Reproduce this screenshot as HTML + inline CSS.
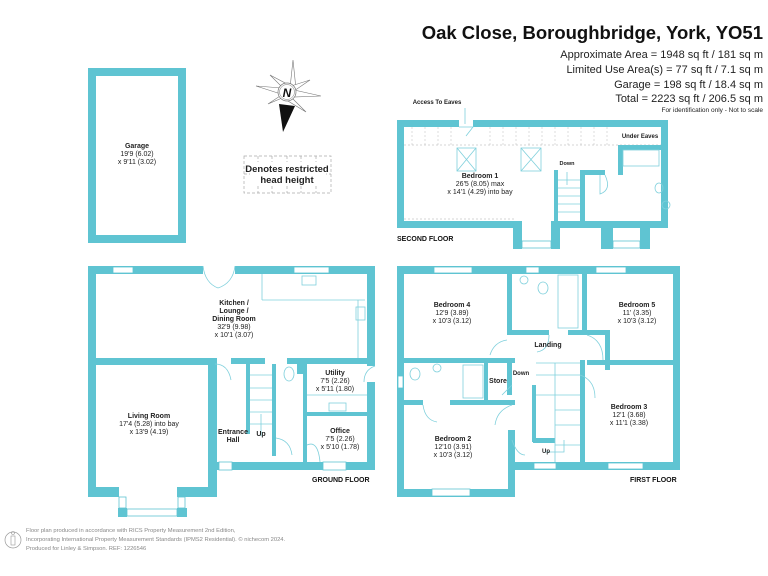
<!DOCTYPE html>
<html><head><meta charset="utf-8"><style>
html,body{margin:0;padding:0;background:#fff;}
svg{display:block;font-family:"Liberation Sans",sans-serif;}
.w{fill:#5fc4d2;}
.win{fill:#fff;stroke:#5fc4d2;stroke-width:0.8;}
.t{font-size:7px;text-anchor:middle;fill:#222;}
.b{font-weight:bold;}
.l{stroke:#7fd0dc;stroke-width:0.8;fill:none;}
</style></head><body>
<svg width="768" height="576" viewBox="0 0 768 576" xmlns="http://www.w3.org/2000/svg">
<!-- Header -->
<text x="763" y="39" font-size="18.5" font-weight="bold" text-anchor="end" fill="#111">Oak Close, Boroughbridge, York, YO51</text>
<g font-size="11" text-anchor="end" fill="#222">
<text x="763" y="58">Approximate Area = 1948 sq ft / 181 sq m</text>
<text x="763" y="73">Limited Use Area(s) = 77 sq ft / 7.1 sq m</text>
<text x="763" y="88">Garage = 198 sq ft / 18.4 sq m</text>
<text x="763" y="102">Total = 2223 sq ft / 206.5 sq m</text>
</g>
<text x="763" y="112" font-size="6.5" text-anchor="end" fill="#222">For identification only - Not to scale</text>

<!-- Garage -->
<rect class="w" x="88" y="68" width="98" height="175"/>
<rect fill="#fff" x="96" y="76" width="82" height="159"/>
<text class="t b" x="137" y="148">Garage</text>
<text class="t" x="137" y="156">19'9 (6.02)</text>
<text class="t" x="137" y="164">x 9'11 (3.02)</text>

<!-- Compass -->
<g stroke="#777" stroke-width="0.6" fill="#fff">
<polygon points="293,60 290,88 296,89"/>
<polygon points="321,96 294,90 293,97"/>
<polygon points="256,86 281,94 282,88"/>
<polygon points="270,75 283,88 287,84"/>
<polygon points="310,80 291,86 294,91"/>
<polygon points="306,112 291,97 288,101"/>
<polygon points="268,104 282,98 283,94"/>
</g>
<polygon points="279,104 295,106 283,132" fill="#111"/>
<circle cx="287" cy="92" r="9" fill="#fff" stroke="#777" stroke-width="0.7"/>
<circle cx="287" cy="92" r="7.5" fill="none" stroke="#777" stroke-width="0.5"/>
<text x="287" y="97" font-size="12" font-weight="bold" font-style="italic" text-anchor="middle" fill="#111">N</text>

<!-- restricted box -->
<g stroke="#aaa" stroke-width="0.7" stroke-dasharray="3,2" fill="none">
<rect x="244" y="156" width="87" height="37"/>
<line x1="258" y1="156" x2="258" y2="193"/><line x1="272" y1="156" x2="272" y2="193"/><line x1="287" y1="156" x2="287" y2="193"/><line x1="301" y1="156" x2="301" y2="193"/><line x1="316" y1="156" x2="316" y2="193"/>
<line x1="244" y1="174" x2="331" y2="174"/>
</g>
<rect x="250" y="162" width="76" height="24" fill="#fff"/>
<text x="287" y="172" font-size="9.5" font-weight="bold" text-anchor="middle" fill="#222">Denotes restricted</text>
<text x="287" y="183" font-size="9.5" font-weight="bold" text-anchor="middle" fill="#222">head height</text>

<!-- SECOND FLOOR -->
<text x="437" y="104" font-size="6" font-weight="bold" text-anchor="middle" fill="#222">Access To Eaves</text>
<line x1="465" y1="108" x2="465" y2="124" stroke="#7fd0dc" stroke-width="0.8"/>
<rect class="w" x="397" y="120" width="62" height="7"/>
<rect class="w" x="473" y="120" width="195" height="7"/>
<rect class="w" x="397" y="120" width="7" height="108"/>
<rect class="w" x="661" y="120" width="7" height="108"/>
<rect class="w" x="397" y="221" width="124" height="7"/>
<rect class="w" x="513" y="221" width="9" height="28"/>
<rect class="w" x="551" y="221" width="110" height="7"/>
<rect class="w" x="551" y="221" width="9" height="28"/>
<rect class="w" x="601" y="221" width="12" height="28"/>
<rect class="w" x="640" y="221" width="10" height="28"/>
<rect class="win" x="522" y="241" width="29" height="7"/>
<rect class="win" x="613" y="241" width="27" height="7"/>
<g stroke="#aaa" stroke-width="0.6" stroke-dasharray="2,2">
<line x1="404" y1="145" x2="661" y2="145"/>
<line x1="404" y1="219" x2="514" y2="219"/>
</g>
<g stroke="#bbb" stroke-width="0.5" stroke-dasharray="2,2">
<line x1="412" y1="127" x2="412" y2="145"/><line x1="425" y1="127" x2="425" y2="145"/><line x1="438" y1="127" x2="438" y2="145"/><line x1="451" y1="127" x2="451" y2="145"/><line x1="490" y1="127" x2="490" y2="145"/><line x1="503" y1="127" x2="503" y2="145"/><line x1="516" y1="127" x2="516" y2="145"/><line x1="529" y1="127" x2="529" y2="145"/><line x1="542" y1="127" x2="542" y2="145"/><line x1="555" y1="127" x2="555" y2="145"/><line x1="568" y1="127" x2="568" y2="145"/><line x1="581" y1="127" x2="581" y2="145"/><line x1="594" y1="127" x2="594" y2="145"/><line x1="607" y1="127" x2="607" y2="145"/>
</g>
<text x="640" y="138" font-size="6" font-weight="bold" text-anchor="middle" fill="#222">Under Eaves</text>
<path d="M459,127 L473,127 L466,136" class="l"/>
<rect x="457" y="148" width="19" height="23" class="l"/><path d="M457,148 L476,171 M476,148 L457,171" class="l"/>
<rect x="521" y="148" width="20" height="23" class="l"/><path d="M521,148 L541,171 M541,148 L521,171" class="l"/>
<text class="t b" x="480" y="178">Bedroom 1</text>
<text class="t" x="480" y="186">26'5 (8.05) max</text>
<text class="t" x="480" y="194">x 14'1 (4.29) into bay</text>
<rect class="w" x="554" y="170" width="4" height="52"/>
<rect class="w" x="580" y="170" width="5" height="52"/>
<g class="l"><line x1="558" y1="180" x2="580" y2="180"/><line x1="558" y1="188" x2="580" y2="188"/><line x1="558" y1="196" x2="580" y2="196"/><line x1="558" y1="204" x2="580" y2="204"/><line x1="558" y1="212" x2="580" y2="212"/><line x1="567" y1="172" x2="567" y2="185"/></g>
<text x="567" y="165" font-size="5.5" font-weight="bold" text-anchor="middle" fill="#222">Down</text>
<rect class="w" x="585" y="170" width="20" height="5"/>
<rect class="w" x="618" y="145" width="5" height="30"/>
<rect class="w" x="618" y="145" width="43" height="5"/>
<path d="M605,175 Q612,190 600,194 L600,175" class="l"/>
<rect x="623" y="150" width="36" height="16" class="l"/>
<ellipse cx="659" cy="188" rx="4" ry="5" class="l"/>
<circle cx="666" cy="205" r="4" class="l"/>
<text x="397" y="241" font-size="7" font-weight="bold" fill="#111">SECOND FLOOR</text>

<!-- GROUND FLOOR -->
<rect class="w" x="88" y="266" width="115" height="8"/>
<rect class="w" x="235" y="266" width="140" height="8"/>
<rect class="w" x="88" y="266" width="8" height="231"/>
<rect class="w" x="367" y="266" width="8" height="100"/>
<rect class="w" x="367" y="382" width="8" height="88"/>
<rect class="w" x="88" y="358" width="127" height="7"/>
<rect class="w" x="231" y="358" width="34" height="6"/>
<rect class="w" x="287" y="358" width="80" height="6"/>
<rect class="w" x="208" y="358" width="9" height="139"/>
<rect class="w" x="88" y="487" width="31" height="10"/>
<rect class="w" x="177" y="487" width="40" height="10"/>
<rect class="w" x="118" y="508" width="9" height="9"/>
<rect class="w" x="177" y="508" width="10" height="9"/>
<rect class="win" x="127" y="509" width="50" height="7"/>
<rect class="win" x="119" y="497" width="7" height="11"/>
<rect class="win" x="178" y="497" width="7" height="11"/>
<rect class="w" x="217" y="462" width="2" height="8"/>
<rect class="win" x="219" y="462" width="13" height="8"/>
<rect class="w" x="232" y="462" width="143" height="8"/>
<rect class="win" x="323" y="462" width="23" height="8"/>
<rect class="win" x="113" y="267" width="20" height="6"/>
<rect class="win" x="294" y="267" width="35" height="6"/>
<rect class="w" x="303" y="364" width="4" height="98"/>
<rect class="w" x="303" y="412" width="72" height="4"/>
<rect class="w" x="272" y="364" width="4" height="92"/>
<rect class="w" x="246" y="364" width="4" height="70"/>
<rect class="w" x="297" y="364" width="6" height="10"/>
<g class="l">
<path d="M203,266 Q205,283 218,288"/><path d="M235,266 Q233,283 218,288"/>
<path d="M215,364 Q228,364 231,380"/>
<line x1="262" y1="274" x2="262" y2="300"/><line x1="262" y1="300" x2="365" y2="300"/><line x1="358" y1="300" x2="358" y2="358"/>
<path d="M375,366 Q364,370 364,382"/>
<line x1="307" y1="395" x2="367" y2="395"/>
<line x1="250" y1="375" x2="272" y2="375"/><line x1="250" y1="388" x2="272" y2="388"/><line x1="250" y1="400" x2="272" y2="400"/><line x1="250" y1="412" x2="272" y2="412"/><line x1="250" y1="424" x2="272" y2="424"/>
<line x1="261" y1="436" x2="261" y2="414"/>
<ellipse cx="289" cy="374" rx="5" ry="7"/>
<path d="M276,438 Q290,440 292,455"/>
<path d="M307,445 Q318,440 320,462"/>
<rect x="329" y="403" width="17" height="8"/>
<rect x="356" y="307" width="9" height="13"/>
<rect x="302" y="276" width="14" height="9"/>
</g>
<text class="t b" x="234" y="305">Kitchen /</text>
<text class="t b" x="234" y="313">Lounge /</text>
<text class="t b" x="234" y="321">Dining Room</text>
<text class="t" x="234" y="329">32'9 (9.98)</text>
<text class="t" x="234" y="337">x 10'1 (3.07)</text>
<text class="t b" x="335" y="375">Utility</text>
<text class="t" x="335" y="383">7'5 (2.26)</text>
<text class="t" x="335" y="391">x 5'11 (1.80)</text>
<text class="t b" x="340" y="433">Office</text>
<text class="t" x="340" y="441">7'5 (2.26)</text>
<text class="t" x="340" y="449">x 5'10 (1.78)</text>
<text class="t b" x="149" y="418">Living Room</text>
<text class="t" x="149" y="426">17'4 (5.28) into bay</text>
<text class="t" x="149" y="434">x 13'9 (4.19)</text>
<text class="t b" x="233" y="434">Entrance</text>
<text class="t b" x="233" y="442">Hall</text>
<text class="t b" x="261" y="436">Up</text>
<text x="312" y="482" font-size="7" font-weight="bold" fill="#111">GROUND FLOOR</text>

<!-- FIRST FLOOR -->
<rect class="w" x="397" y="266" width="283" height="8"/>
<rect class="win" x="434" y="267" width="38" height="6"/>
<rect class="win" x="526" y="267" width="13" height="6"/>
<rect class="win" x="596" y="267" width="30" height="6"/>
<rect class="w" x="397" y="266" width="7" height="231"/>
<rect class="win" x="398" y="376" width="5" height="12"/>
<rect class="w" x="673" y="266" width="7" height="204"/>
<rect class="w" x="397" y="489" width="118" height="8"/>
<rect class="win" x="432" y="489" width="38" height="7"/>
<rect class="w" x="508" y="462" width="172" height="8"/>
<rect class="win" x="534" y="463" width="22" height="6"/>
<rect class="win" x="608" y="463" width="35" height="6"/>
<rect class="w" x="508" y="430" width="7" height="67"/>
<rect class="w" x="507" y="266" width="5" height="66"/>
<rect class="w" x="507" y="330" width="42" height="5"/>
<rect class="w" x="568" y="330" width="19" height="5"/>
<rect class="w" x="582" y="266" width="5" height="66"/>
<rect class="w" x="397" y="358" width="118" height="5"/>
<rect class="w" x="507" y="358" width="5" height="37"/>
<rect class="w" x="397" y="400" width="26" height="5"/>
<rect class="w" x="450" y="400" width="65" height="5"/>
<rect class="w" x="484" y="363" width="4" height="40"/>
<rect class="w" x="587" y="360" width="93" height="5"/>
<rect class="w" x="580" y="360" width="5" height="110"/>
<rect class="w" x="605" y="330" width="5" height="40"/>
<rect class="w" x="587" y="330" width="23" height="5"/>
<rect class="w" x="532" y="385" width="4" height="57"/>
<rect class="w" x="533" y="438" width="22" height="5"/>
<g class="l">
<line x1="536" y1="363" x2="580" y2="363"/>
<line x1="536" y1="375" x2="580" y2="375"/><line x1="536" y1="395" x2="580" y2="395"/><line x1="555" y1="410" x2="580" y2="410"/><line x1="555" y1="425" x2="580" y2="425"/><line x1="555" y1="445" x2="580" y2="445"/>
<line x1="555" y1="363" x2="555" y2="462"/>
<rect x="558" y="275" width="20" height="53"/>
<ellipse cx="543" cy="288" rx="5" ry="6"/><circle cx="524" cy="280" r="4"/>
<ellipse cx="415" cy="374" rx="5" ry="6"/><circle cx="437" cy="368" r="4"/>
<rect x="463" y="365" width="20" height="33"/>
<path d="M549,335 Q549,350 537,352"/>
<path d="M587,335 Q603,340 603,360"/>
<path d="M507,340 Q494,342 490,355"/>
<path d="M423,405 Q425,420 437,422"/>
<path d="M580,375 Q595,380 595,398"/>
<path d="M512,405 Q497,410 495,425"/>
<path d="M512,440 Q517,455 525,455"/>
<line x1="512" y1="385" x2="502" y2="395"/>
<path d="M564,440 L564,452 L545,452"/>
</g>
<text class="t b" x="452" y="307">Bedroom 4</text>
<text class="t" x="452" y="315">12'9 (3.89)</text>
<text class="t" x="452" y="323">x 10'3 (3.12)</text>
<text class="t b" x="637" y="307">Bedroom 5</text>
<text class="t" x="637" y="315">11' (3.35)</text>
<text class="t" x="637" y="323">x 10'3 (3.12)</text>
<text class="t b" x="548" y="347">Landing</text>
<text class="t b" x="498" y="383">Store</text>
<text x="521" y="375" font-size="6" font-weight="bold" text-anchor="middle" fill="#222">Down</text>
<text class="t b" x="629" y="409">Bedroom 3</text>
<text class="t" x="629" y="417">12'1 (3.68)</text>
<text class="t" x="629" y="425">x 11'1 (3.38)</text>
<text class="t b" x="453" y="441">Bedroom 2</text>
<text class="t" x="453" y="449">12'10 (3.91)</text>
<text class="t" x="453" y="457">x 10'3 (3.12)</text>
<text x="546" y="453" font-size="6" font-weight="bold" text-anchor="middle" fill="#222">Up</text>
<text x="630" y="482" font-size="7" font-weight="bold" fill="#111">FIRST FLOOR</text>

<!-- Footer -->
<circle cx="13" cy="540" r="8" fill="none" stroke="#999" stroke-width="0.7"/>
<rect x="11" y="536" width="4" height="9" fill="none" stroke="#999" stroke-width="0.6"/>
<circle cx="13" cy="533" r="1.5" fill="none" stroke="#999" stroke-width="0.6"/>
<g font-size="5.8" fill="#888">
<text x="26" y="532">Floor plan produced in accordance with RICS Property Measurement 2nd Edition,</text>
<text x="26" y="541">Incorporating International Property Measurement Standards (IPMS2 Residential).   © nichecom 2024.</text>
<text x="26" y="550">Produced for Linley &amp; Simpson.   REF: 1226546</text>
</g>
</svg>
</body></html>
